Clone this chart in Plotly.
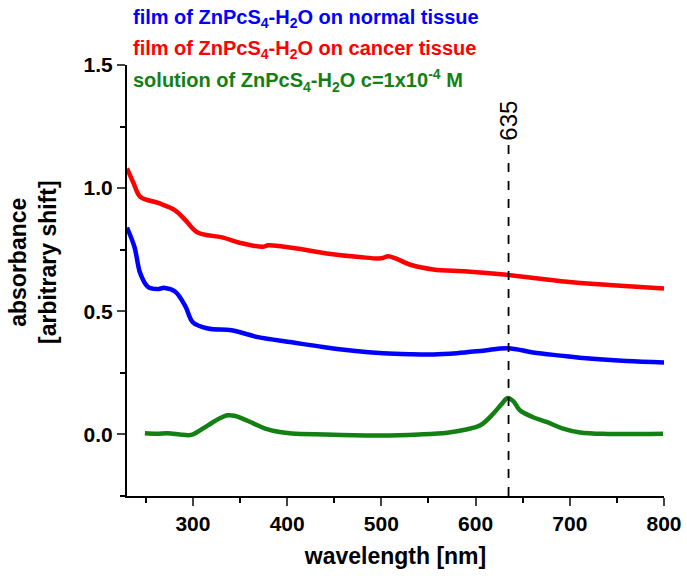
import plotly.graph_objects as go

# ---- data ----
normal_nm = [230, 238, 244, 252, 262, 270, 281, 292, 300, 316, 341, 369, 405, 438,
             470, 502, 530, 555, 580, 608, 634, 661, 690, 714, 760, 800]
normal_abs = [0.84, 0.76, 0.655, 0.60, 0.59, 0.595, 0.58, 0.52, 0.455, 0.43, 0.423,
              0.395, 0.374, 0.355, 0.34, 0.33, 0.326, 0.325, 0.33, 0.34, 0.35, 0.333,
              0.32, 0.31, 0.298, 0.292]

cancer_nm = [230, 237, 244, 263, 281, 292, 305, 331, 352, 374, 380, 405, 442, 477,
             500, 507, 515, 530, 555, 591, 633, 697, 750, 800]
cancer_abs = [1.08, 1.02, 0.965, 0.94, 0.91, 0.87, 0.82, 0.80, 0.776, 0.762, 0.768,
              0.758, 0.735, 0.72, 0.715, 0.723, 0.715, 0.69, 0.67, 0.662, 0.648, 0.62,
              0.605, 0.593]

solution_nm = [249, 262, 273, 286, 295, 300, 316, 328, 337, 345, 352, 364, 376, 392,
               405, 440, 499, 540, 570, 590, 605, 619, 628, 634, 640, 647, 661, 676,
               692, 711, 740, 799]
solution_abs = [0.005, 0.003, 0.005, 0.0, -0.003, 0.0, 0.037, 0.065, 0.078, 0.075,
                0.065, 0.045, 0.025, 0.01, 0.004, 0.0, -0.004, 0.0, 0.007, 0.02, 0.037,
                0.085, 0.125, 0.148, 0.135, 0.098, 0.07, 0.05, 0.025, 0.008, 0.002, 0.003]

peak_nm = 635
peak_label = "635"

series_names = [
    "film of ZnPcS<sub>4</sub>-H<sub>2</sub>O on normal tissue",
    "film of ZnPcS<sub>4</sub>-H<sub>2</sub>O on cancer tissue",
    "solution of ZnPcS<sub>4</sub>-H<sub>2</sub>O c=1x10<sup>-4</sup> M",
]
colors = ["#0000FF", "#FF0000", "#138013"]

FONT = "Liberation Sans, Arial, sans-serif"

fig = go.Figure()
for xs, ys, c in [(normal_nm, normal_abs, colors[0]),
                  (cancer_nm, cancer_abs, colors[1]),
                  (solution_nm, solution_abs, colors[2])]:
    fig.add_trace(go.Scatter(x=xs, y=ys, mode="lines",
                             line=dict(color=c, width=4.5, shape="spline", smoothing=1.0),
                             showlegend=False, hoverinfo="skip"))

# dashed marker line
fig.add_shape(type="line", xref="x", yref="y", x0=peak_nm, x1=peak_nm,
              y0=-0.25, y1=1.175, line=dict(color="black", width=1.8, dash="dash"))
fig.add_annotation(x=peak_nm, y=1.272, xref="x", yref="y", text=peak_label,
                   textangle=-90, showarrow=False,
                   font=dict(family=FONT, size=24, color="black"))

# text legend
for i, (name, c) in enumerate(zip(series_names, colors)):
    fig.add_annotation(xref="paper", yref="paper", x=0.008, y=[1.107, 1.037, 0.965][i],
                       xanchor="left", yanchor="middle", showarrow=False,
                       text="<b>" + name + "</b>",
                       font=dict(family=FONT, size=20, color=c))

# y axis title (two lines)
fig.add_annotation(xref="paper", yref="paper", x=-0.175, y=0.543, xanchor="center",
                   yanchor="middle", textangle=-90, showarrow=False,
                   text="<b>absorbance<br>[arbitrary shift]</b>",
                   font=dict(family=FONT, size=23, color="black"))

fig.update_layout(
    width=687, height=581,
    margin=dict(l=127, r=23, t=65, b=85),
    paper_bgcolor="white", plot_bgcolor="white",
    font=dict(family=FONT, color="black"),
    xaxis=dict(range=[230, 800], tick0=0, dtick=100, ticks="outside", ticklen=8,
               tickwidth=2, showline=True, linecolor="black", linewidth=2,
               showgrid=False, zeroline=False, automargin=False,
               tickfont=dict(family=FONT, size=21, color="black", weight="bold"),
               minor=dict(dtick=50, ticks="outside", ticklen=5, tickwidth=2,
                          tickcolor="black", showgrid=False),
               title=dict(text="<b>wavelength [nm]</b>", standoff=14,
                          font=dict(family=FONT, size=23, color="black"))),
    yaxis=dict(range=[-0.25, 1.5], tick0=0, dtick=0.5, tickformat=".1f",
               ticks="outside", ticklen=8, tickwidth=2, showline=True,
               linecolor="black", linewidth=2, showgrid=False, zeroline=False,
               automargin=False,
               tickfont=dict(family=FONT, size=21, color="black", weight="bold"),
               minor=dict(dtick=0.25, ticks="outside", ticklen=5, tickwidth=2,
                          tickcolor="black", showgrid=False)),
)

fig.write_html("out.html", config={"displayModeBar": False},
               post_script="document.body.style.margin='0';document.body.style.overflow='hidden';")
